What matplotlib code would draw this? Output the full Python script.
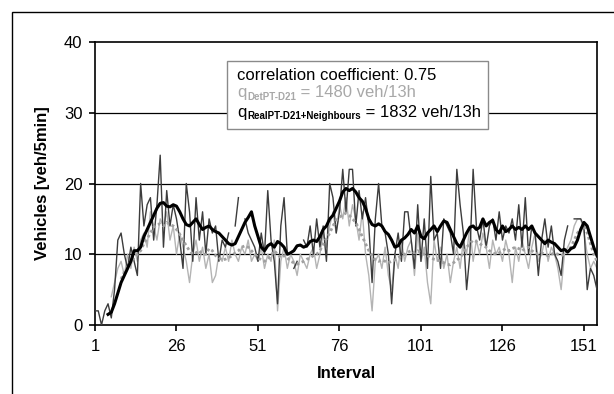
import numpy as np
import matplotlib
matplotlib.use("Agg")
import matplotlib.pyplot as plt
from matplotlib.patches import Rectangle

nan = np.nan

# interval index 1..155 (5 min intervals)
intervals = list(range(1, 156))

# raw counts, RealPT-D21 + neighbours (dark thin line)
real_raw = [2, 2, 0, 2, 3, 1, 5, 12, 13, 10,
            8, 11, 9, 7, 20, 14, 17, 18, 12, 17,
            24, 11, 19, 14, 17, 15, 12, 8, 20, 16,
            9, 18, 12, 16, 10, 15, 13, 14, 9, 12,
            11, 13, nan, 14, 18, nan, 15, 13, 12, 11,
            9, 13, 10, 19, 12, 9, 3, 14, 18, 10,
            nan, 8, 9, nan, 12, 11, 14, 10, 15, 11,
            14, 9, 20, 18, 13, 16, 22, 16, 22, 22,
            14, 19, 15, 18, 14, 6, 15, 20, 14, 13,
            10, 3, 10, 13, 9, 16, 16, 12, 8, 17,
            9, 15, 8, 21, 12, 13, 8, 15, 14, 13,
            10, 22, 17, 13, 5, 10, 22, 14, 12, 15,
            11, 14, 15, 12, 16, 12, 14, 13, 15, 12,
            17, 11, 18, 10, 14, 13, 7, 12, 15, 11,
            14, 10, 9, 7, 12, 14, nan, 15, 15, 15,
            14, 5, 8, 7, 5]

# raw counts, DetPT-D21 (light grey thin line)
det_raw = [nan, nan, nan, nan, nan, 4, 6, 8, 9, 7,
           10, 8, 11, 9, 12, 13, 11, 16, 14, 12,
           15, 14, 16, 12, 14, 10, 13, 11, 9, 6,
           10, 12, 9, 11, 8, 10, 6, 7, 10, 9,
           11, 9, 12, 10, 9, 11, 10, 12, 9, 10,
           9, 11, 8, 10, 9, 12, 2, 9, 11, 8,
           10, 9, 7, 10, 9, 8, 10, 11, 8, 10,
           13, 11, 14, 16, 13, 17, 15, 18, 14, 17,
           15, 12, 16, 10, 7, 2, 9, 10, 8, 11,
           7, 5, 10, 8, 12, 9, 11, 12, 7, 13,
           9, 11, 6, 3, 12, 9, 11, 8, 10, 6,
           9, 11, 8, 12, 10, 14, 9, 12, 10, 13,
           11, 8, 12, 10, 11, 9, 12, 10, 6, 11,
           9, 12, 10, 8, 11, 13, 9, 10, 12, 9,
           11, 10, 8, 5, 10, 11, 12, 14, 15, 15,
           13, 10, 8, 9, 8]

# smoothed RealPT (thick black line)
real_smooth = [nan, nan, nan, nan, 1.5, 1.8, 3.0, 4.5, 6.0, 7.0,
               8.0, 9.0, 10.5, 10.5, 11.0, 12.5, 13.5, 14.5, 15.5, 16.5,
               17.2, 17.3, 16.8, 16.7, 17.0, 16.8, 16.0, 15.0, 14.2, 14.0,
               14.5, 15.0, 14.2, 13.5, 13.8, 14.0, 13.5, 13.2, 13.0, 12.5,
               12.0, 11.5, 11.3, 11.5, 12.5, 13.5, 14.5, 15.2, 16.0, 14.0,
               12.5, 11.0, 10.5, 11.2, 11.5, 11.0, 11.8, 11.5, 11.0, 10.0,
               10.2, 10.5, 11.2, 11.3, 11.0, 11.2, 11.8, 12.0, 11.8, 12.5,
               13.5, 14.0, 15.0, 15.5, 16.5, 17.5, 18.8, 19.3, 19.0, 19.3,
               18.8, 18.0, 17.5, 16.5, 15.0, 14.2, 14.0, 14.3, 14.0, 13.2,
               12.8, 12.0, 11.0, 11.2, 12.0, 12.3, 12.8, 13.5, 13.0, 14.0,
               12.5, 12.2, 13.0, 13.5, 14.0, 13.2, 14.0, 14.7, 14.5, 13.5,
               12.5, 11.5, 11.0, 12.0, 13.0, 13.8, 14.0, 13.5, 13.8, 15.0,
               14.0, 14.5, 14.8, 13.5, 13.0, 14.0, 13.2, 13.5, 14.0, 13.5,
               13.8, 13.5, 14.0, 13.5, 14.0, 13.0, 12.5, 12.0, 11.5, 12.0,
               11.7, 11.5, 11.0, 10.5, 10.7, 10.3, 10.8, 11.0, 12.0, 13.5,
               14.5, 14.0, 12.5, 11.0, 9.8]

# smoothed DetPT (grey dotted line)
det_smooth = [nan, nan, nan, nan, nan, nan, nan, nan, 6.5, 7.5,
              8.2, 9.0, 9.5, 10.0, 10.5, 11.5, 12.2, 13.0, 13.8, 14.2,
              14.3, 14.0, 14.5, 14.2, 14.0, 13.5, 12.8, 12.0, 11.2, 10.5,
              10.0, 10.2, 10.5, 10.0, 10.0, 10.8, 10.5, 9.8, 9.5, 9.2,
              9.3, 9.5, 9.8, 10.2, 10.5, 11.0, 11.2, 11.0, 10.5, 10.0,
              9.5, 9.2, 9.0, 9.3, 9.8, 10.5, 10.0, 9.5, 9.8, 9.5,
              9.0, 8.8, 8.6, 8.8, 9.0, 9.3, 9.5, 9.8, 10.0, 10.5,
              11.5, 12.2, 13.0, 14.0, 14.8, 15.2, 15.6, 15.8, 15.5, 15.0,
              14.5, 13.5, 12.5, 11.5, 10.5, 9.8, 9.2, 9.0, 9.2, 9.0,
              8.8, 9.0, 9.2, 9.5, 9.8, 10.0, 10.3, 10.5, 10.2, 10.5,
              10.2, 10.0, 9.8, 9.5, 9.3, 9.2, 9.0, 8.8, 8.6, 8.5,
              8.8, 9.2, 9.5, 10.2, 11.0, 11.5, 12.0, 11.8, 11.5, 11.2,
              11.0, 10.5, 10.2, 10.0, 10.2, 10.5, 10.8, 10.5, 10.8, 11.0,
              10.8, 10.5, 10.8, 11.0, 10.5, 10.2, 10.0, 10.2, 10.0, 9.8,
              10.0, 10.2, 10.0, 9.8, 10.0, 10.5, 11.0, 12.0, 13.0, 13.5,
              14.0, 13.0, 11.5, 10.0, 9.0]

x_ticks = [1, 26, 51, 76, 101, 126, 151]
y_ticks = [0, 10, 20, 30, 40]

plt.rcParams['font.family'] = ['Liberation Sans', 'DejaVu Sans']

fig = plt.figure(figsize=(6.14, 3.94), dpi=100)
ax = fig.add_axes([95 / 614, 1 - 325 / 394, 502 / 614, 283 / 394])

for yv in [10, 20, 30]:
    ax.axhline(yv, color='black', lw=0.9, zorder=1)

ax.plot(intervals, det_raw, color='#b4b4b4', lw=1.0, zorder=2)
ax.plot(intervals, real_raw, color='#3c3c3c', lw=1.0, zorder=3)
ax.plot(intervals, det_smooth, color='#a0a0a0', lw=2.0, ls=(0, (1, 1)), zorder=4)
ax.plot(intervals, real_smooth, color='black', lw=2.2, zorder=5)

ax.set_xlim(1, 155)
ax.set_ylim(0, 40)
ax.set_xticks(x_ticks)
ax.set_yticks(y_ticks)
ax.tick_params(axis='both', labelsize=12, direction='out', length=4, width=1.2)
ax.tick_params(axis='x', pad=6)
ax.tick_params(axis='y', pad=5)
for s in ax.spines.values():
    s.set_linewidth(1.2)

ax.set_xlabel('Interval', fontsize=12, fontweight='bold', labelpad=9)
ax.set_ylabel('Vehicles [veh/5min]', fontsize=12, fontweight='bold', labelpad=10)

# annotation box
box = Rectangle((0.263, 0.693), 0.52, 0.24, transform=ax.transAxes,
                facecolor='white', edgecolor='#8a8a8a', lw=1.0, zorder=6)
ax.add_patch(box)
ax.text(0.283, 0.883, 'correlation coefficient: 0.75', transform=ax.transAxes,
        fontsize=12, va='center', zorder=7)


def q_line(y, sub, rest, color):
    q = ax.text(0.283, y, 'q', transform=ax.transAxes, fontsize=12,
                va='baseline', color=color, zorder=7)
    s = ax.annotate(sub, xy=(1, 0), xycoords=q, xytext=(0.5, -1),
                    textcoords='offset points', fontsize=7, fontweight='bold',
                    va='bottom', color=color, zorder=7)
    ax.annotate(rest, xy=(1, 0), xycoords=(s, q), va='bottom',
                fontsize=12, color=color, zorder=7)


q_line(0.805, 'DetPT-D21', ' = 1480 veh/13h', '#a8a8a8')
q_line(0.735, 'RealPT-D21+Neighbours', ' = 1832 veh/13h', 'black')

# outer frame
fig.add_artist(Rectangle((12 / 614, -0.1), 1.2, (394 - 12) / 394 + 0.1,
                         transform=fig.transFigure, fill=False,
                         edgecolor='black', lw=1.0))

fig.savefig('out.png', dpi=100)
